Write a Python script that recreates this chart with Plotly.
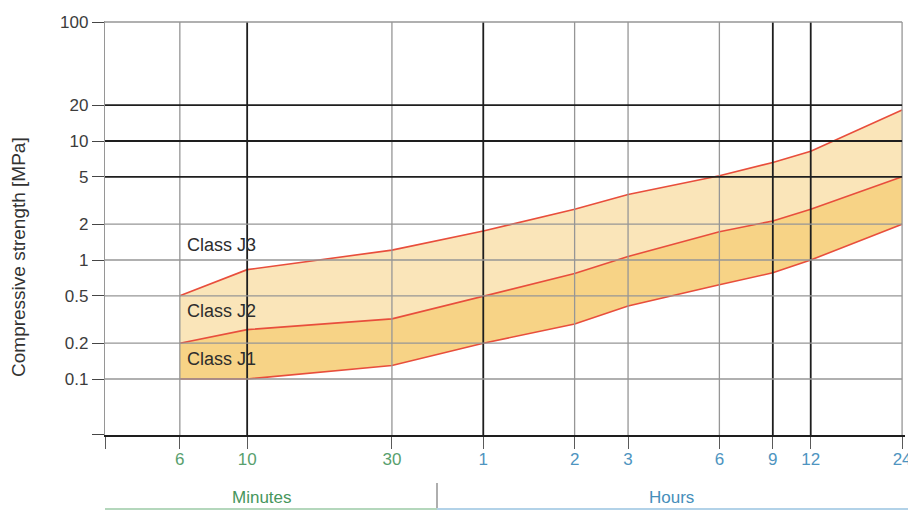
import math
import plotly.graph_objects as go

# time since application, in minutes
time_min = [6, 10, 30, 60, 120, 180, 360, 540, 720, 1440]
# class boundaries, compressive strength in MPa
j1_lower = [0.1, 0.1, 0.13, 0.2, 0.29, 0.41, 0.62, 0.78, 1.0, 2.0]
j1_j2 = [0.2, 0.26, 0.32, 0.5, 0.77, 1.07, 1.73, 2.13, 2.67, 5.0]
j2_j3 = [0.5, 0.83, 1.21, 1.75, 2.67, 3.55, 5.1, 6.6, 8.2, 18.2]

x_tick_labels = ["6", "10", "30", "1", "2", "3", "6", "9", "12", "24"]
x_tick_unit = ["min", "min", "min", "h", "h", "h", "h", "h", "h", "h"]
y_ticks = [0.1, 0.2, 0.5, 1, 2, 5, 10, 20, 100]
y_tick_labels = ["0.1", "0.2", "0.5", "1", "2", "5", "10", "20", "100"]
class_names = ["Class J1", "Class J2", "Class J3"]

dark_x = [10, 60, 540, 720]  # heavier grid lines
dark_y = [5, 10, 20]

FONT = "Liberation Sans, Arial, sans-serif"
GREEN = "rgb(88,160,110)"
BLUE = "rgb(78,148,192)"
RED = "rgb(232,78,60)"
GRID = "rgb(150,150,150)"
DARK = "rgb(30,30,30)"

xr = [0.5315, 3.168]
yr = [-1.4706, 2.0084]
x_left = 10 ** xr[0]
y_bottom = 10 ** yr[0]

fig = go.Figure()

fig.add_trace(go.Scatter(x=time_min, y=j1_lower, mode="lines",
                         line=dict(color=RED, width=1.6), hoverinfo="skip"))
fig.add_trace(go.Scatter(x=time_min, y=j1_j2, mode="lines", fill="tonexty",
                         fillcolor="rgb(247,211,134)",
                         line=dict(color=RED, width=1.6), hoverinfo="skip"))
fig.add_trace(go.Scatter(x=time_min, y=j2_j3, mode="lines", fill="tonexty",
                         fillcolor="rgb(250,229,185)",
                         line=dict(color=RED, width=1.6), hoverinfo="skip"))

# grid lines drawn on top of the bands (shape coords on log axes are data values)
shapes = []
for t in time_min:
    dark = t in dark_x
    shapes.append(dict(type="line", xref="x", yref="y", layer="above",
                       x0=t, x1=t, y0=y_bottom, y1=100,
                       line=dict(color=DARK if dark else GRID,
                                 width=1.8 if dark else 1.3)))
for v in y_ticks:
    dark = v in dark_y
    shapes.append(dict(type="line", xref="x", yref="y", layer="above",
                       x0=x_left, x1=1440, y0=v, y1=v,
                       line=dict(color=DARK if dark else GRID,
                                 width=1.8 if dark else 1.3)))

# unit bar under the axis
shapes += [
    dict(type="line", xref="paper", yref="paper", x0=0.415, x1=0.415,
         y0=-0.116, y1=-0.181, line=dict(color="rgb(120,120,120)", width=1.2)),
    dict(type="line", xref="paper", yref="paper", x0=0.0, x1=0.415,
         y0=-0.1785, y1=-0.1785, line=dict(color="rgb(180,215,188)", width=2)),
    dict(type="line", xref="paper", yref="paper", x0=0.415, x1=1.004,
         y0=-0.1785, y1=-0.1785, line=dict(color="rgb(178,210,232)", width=2)),
]

x_ticktext = [""] + [
    f"<span style='color:{GREEN if u == 'min' else BLUE}'>{lab}</span>"
    for lab, u in zip(x_tick_labels, x_tick_unit)
]

annotations = [
    dict(text="Compressive strength [MPa]", xref="paper", yref="paper",
         x=-0.1075, y=0.43, xanchor="center", yanchor="middle",
         textangle=-90, showarrow=False,
         font=dict(family=FONT, size=19, color="rgb(50,50,50)")),
    dict(text="Minutes", xref="paper", yref="paper", x=0.196, y=-0.15,
         xanchor="center", yanchor="middle", showarrow=False,
         font=dict(family=FONT, size=17, color="rgb(70,150,92)")),
    dict(text="Hours", xref="paper", yref="paper", x=0.7075, y=-0.15,
         xanchor="center", yanchor="middle", showarrow=False,
         font=dict(family=FONT, size=17, color="rgb(70,142,186)")),
]
label_y = [0.148, 0.37, 1.33]
for name, ly in zip(class_names, label_y):
    annotations.append(dict(text=name, xref="x", yref="y", x=math.log10(6),
                            y=math.log10(ly), xanchor="left", xshift=5,
                            showarrow=False,
                            font=dict(family=FONT, size=18, color="rgb(45,45,45)")))

fig.update_layout(
    width=908, height=510,
    margin=dict(l=105, r=3, t=21, b=75, pad=0, autoexpand=False),
    plot_bgcolor="white", paper_bgcolor="white",
    showlegend=False,
    shapes=shapes,
    annotations=annotations,
    font=dict(family=FONT, size=17, color="rgb(60,60,60)"),
    xaxis=dict(type="log", range=xr, showgrid=False, zeroline=False,
               automargin=False,
               tickmode="array", tickvals=[10 ** 0.532] + time_min,
               ticktext=x_ticktext, ticks="outside", ticklen=12, tickwidth=1.3,
               tickcolor="rgb(90,90,90)", showline=True, linecolor=DARK,
               linewidth=1.8, ticklabelstandoff=-4, ticklabeloverflow="allow"),
    yaxis=dict(type="log", range=yr, showgrid=False, zeroline=False,
               automargin=False,
               tickmode="array", tickvals=[10 ** -1.47] + y_ticks,
               ticktext=[""] + y_tick_labels, ticks="outside", ticklen=12,
               tickwidth=1.3, tickcolor="rgb(70,70,70)", showline=True,
               linecolor=GRID, linewidth=1.3, ticklabelstandoff=0),
)

fig.write_html("out.html", config={"displayModeBar": False},
               post_script="document.body.style.margin='0';"
                           "document.body.style.overflow='hidden';")
